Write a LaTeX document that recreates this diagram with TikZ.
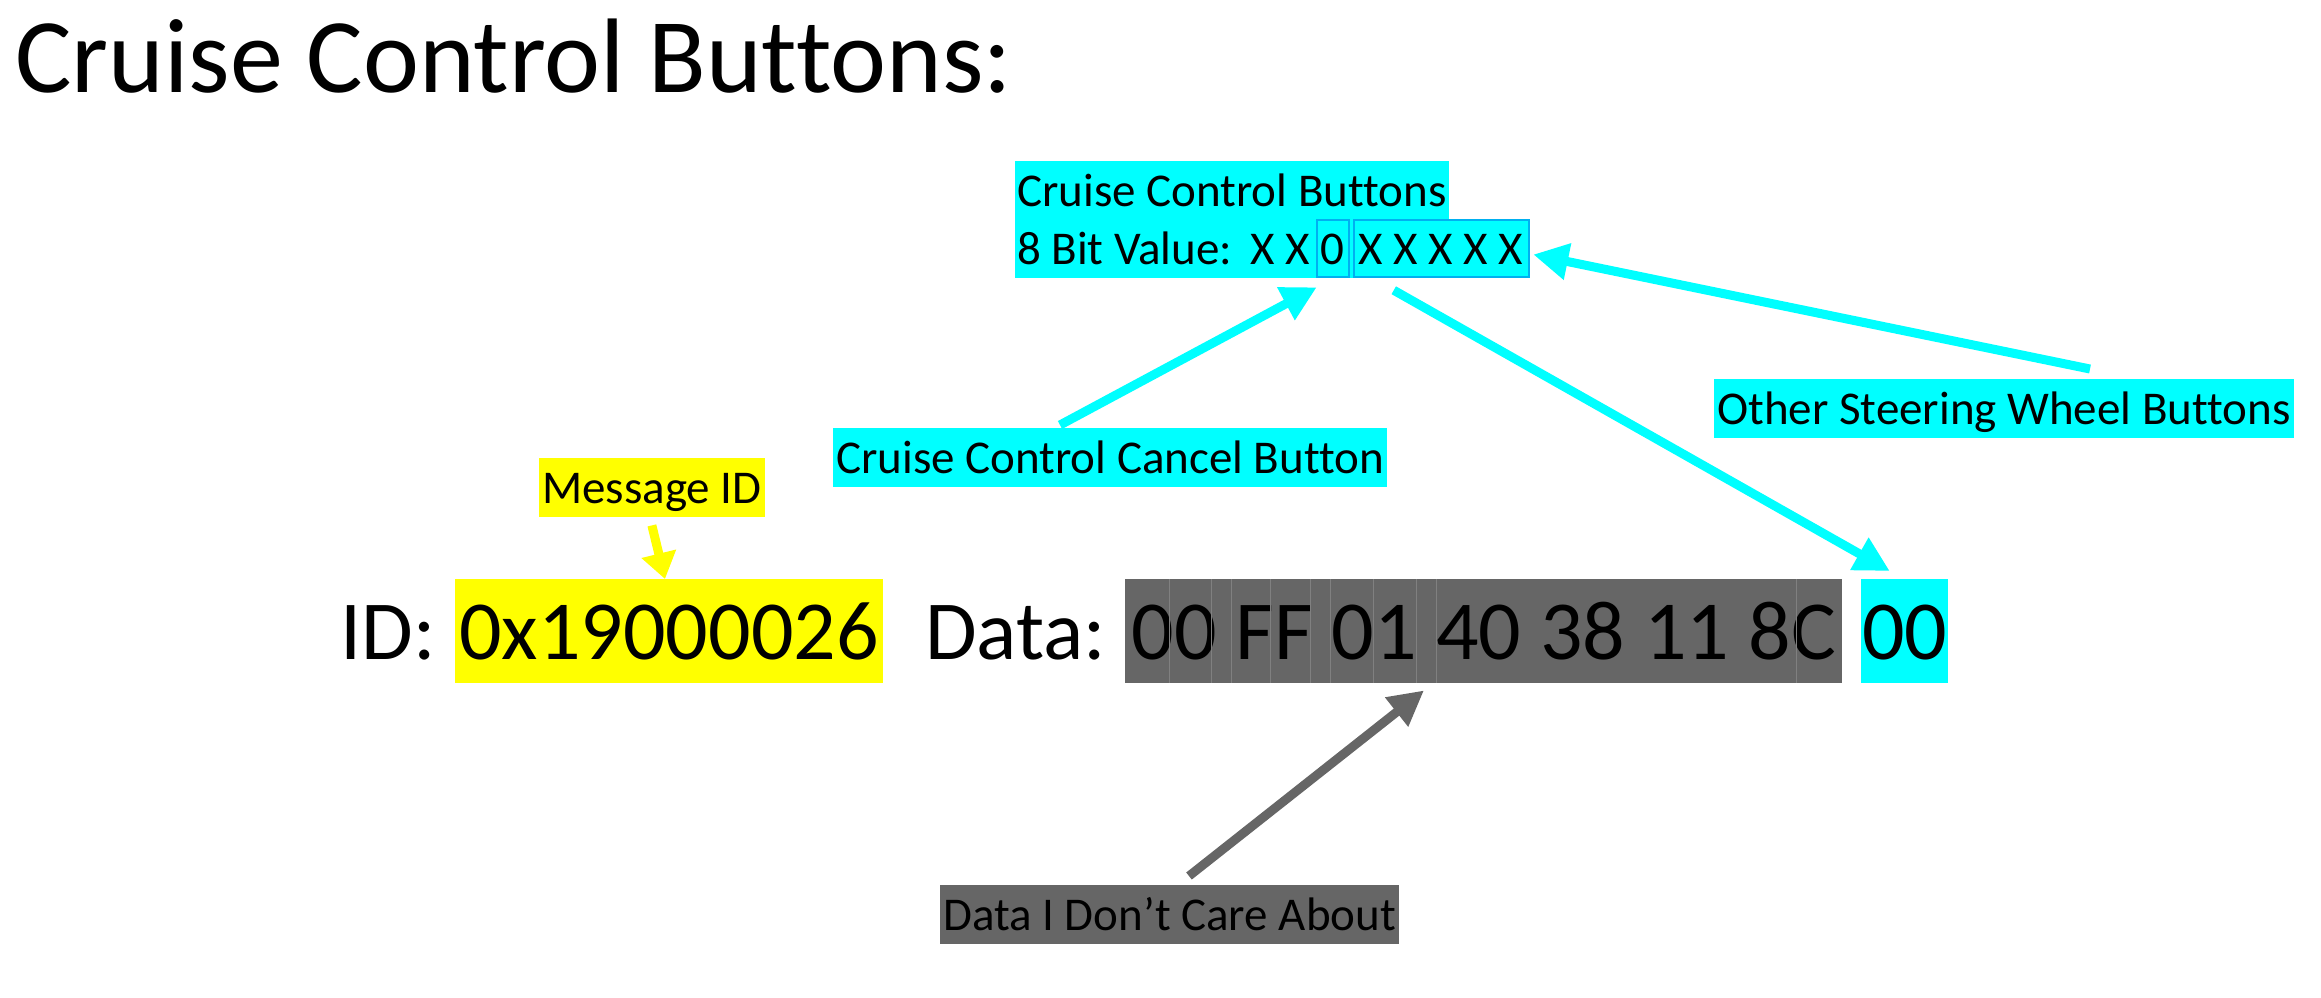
\documentclass[tikz,border=0pt]{standalone}
\usepackage{fontspec}
\setmainfont{Carlito}[Ligatures={NoCommon}]
\usetikzlibrary{arrows.meta,calc}
\definecolor{cy}{HTML}{00FFFF}
\definecolor{yl}{HTML}{FFFF00}
\definecolor{gr}{HTML}{666666}
\definecolor{bl}{HTML}{00B0F0}
\definecolor{grline}{HTML}{808080}
\newcommand{\bitcell}[2]{\makebox[#1pt][l]{#2}}
\begin{document}
\begin{tikzpicture}[x=1pt,y=-1pt,
  lab/.style={font=\fontsize{47}{56}\selectfont, inner xsep=3pt, inner ysep=0pt, text height=45pt, text depth=14pt, anchor=north west},
  big/.style={font=\fontsize{84}{100}\selectfont, inner xsep=0pt, inner ysep=0pt, text height=80pt, text depth=24pt},
  bitbox/.style={draw=bl, line width=2.5pt, minimum height=57pt, inner sep=0pt},
  arr/.style={line width=9pt, -{Triangle[length=35pt,width=35pt]}},
  sep/.style={draw=grline, line width=1pt},
]
\useasboundingbox[fill=white] (0,0) rectangle (2321,997);

% title
\node[font=\fontsize{106}{122}\selectfont, anchor=base west, inner sep=0pt] (title) at (15,92) {Cruise Control Buttons:};

% top info box
\node[lab, fill=cy, inner xsep=2pt] (cc1) at (1015,161) {Cruise Control Buttons};
\node[lab, fill=cy, inner xsep=2pt] (cc2) at (1015,219) {\makebox[511pt][l]{\bitcell{233}{8 Bit Value:}\bitcell{35}{X}\bitcell{35}{X}\bitcell{38.5}{0}\bitcell{35}{X}\bitcell{35}{X}\bitcell{35}{X}\bitcell{35}{X}X}};
\node[bitbox, minimum width=32pt] (zero) at (1333,248.5) {};
\node[bitbox, minimum width=175pt] (xs) at (1441.5,248.5) {};

% labels
\node[lab, fill=yl] (msg) at (539,458) {Message ID};
\node[lab, fill=cy] (cancel) at (833,428) {Cruise Control Cancel Button};
\node[lab, fill=cy] (other) at (1714,379) {Other Steering Wheel Buttons};
\node[lab, fill=gr] (dc) at (940,885) {Data I Don’t Care About};

% main line
\node[big, anchor=base west] (idl) at (340,659) {ID:};
\node[big, anchor=north west, fill=yl, inner xsep=4pt] (idv) at (455,579) {0x19000026};
\node[big, anchor=base west] (datal) at (925,659) {Data:};
\node[big, anchor=north west, fill=gr, inner xsep=3pt, minimum width=717pt] (dat) at (1125,579) {00 FF 01 40 38 11 8C};
\node[big, anchor=north west, fill=cy, inner xsep=1pt] (c00) at (1861,579) {00};
\foreach \d in {44,86,106,145,185,205,248,291,311,671}
  \draw[sep] ($(dat.north west)+(\d,0)$) -- ($(dat.south west)+(\d,0)$);

% arrows
\coordinate (ytail) at ($(msg.south)+(0,8)$);
\coordinate (ytip) at ($(idv.north)+(-4,0)$);
\draw[line width=9pt, yl, -{Triangle[length=26pt,width=34pt]}] (ytail) -- (ytip);

\coordinate (ctail) at ($(cancel.north west)+(227,-3)$);
\coordinate (ctip) at ($(zero.south west)+(1,9)$);
\draw[arr, cy] (ctail) -- (ctip);

\coordinate (dtail) at ($(xs.south west)+(41,12)$);
\coordinate (dtip) at ($(c00.north)+(-15,-8)$);
\draw[arr, cy] (dtail) -- (dtip);

\coordinate (otail) at ($(other.north west)+(376,-10)$);
\coordinate (otip) at ($(xs.east)+(3,6)$);
\draw[arr, cy] (otail) -- (otip);

\coordinate (gtail) at ($(dc.north west)+(249,-9)$);
\coordinate (gtip) at ($(dat.south west)+(299,7)$);
\draw[arr, gr] (gtail) -- (gtip);
\end{tikzpicture}
\end{document}
